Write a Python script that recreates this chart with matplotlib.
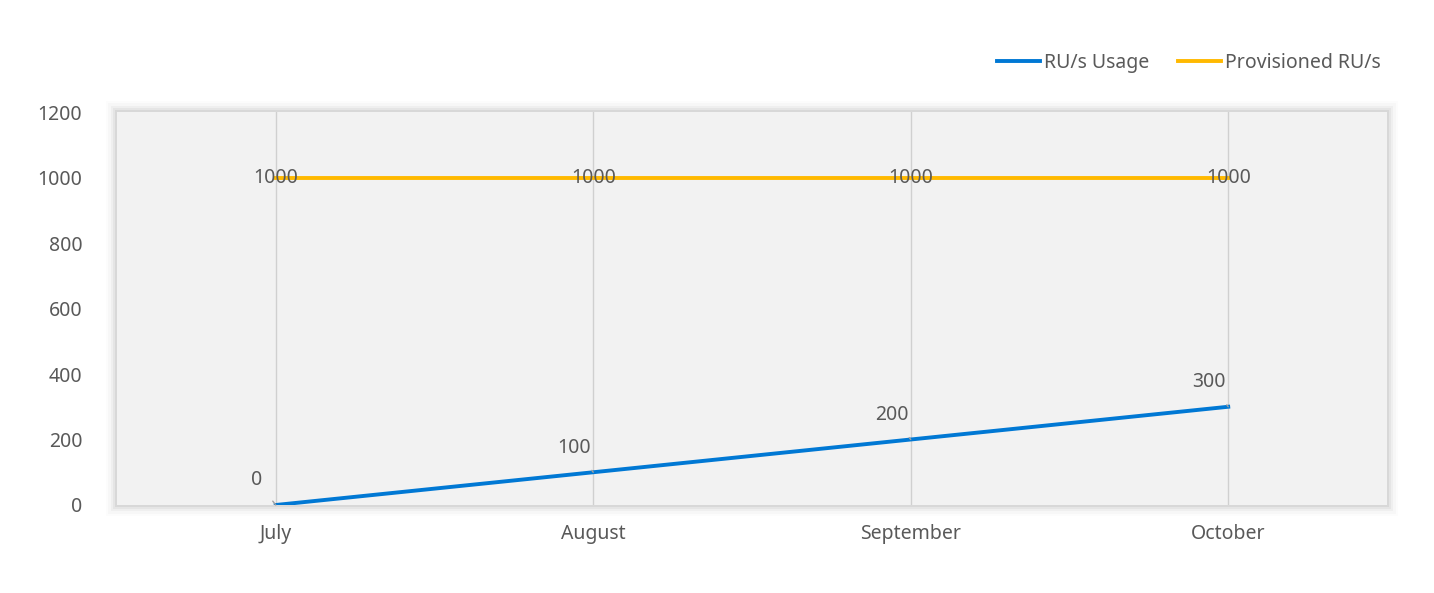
import matplotlib.pyplot as plt
from matplotlib.patches import Rectangle

plt.rcParams['font.family'] = ['Noto Sans', 'DejaVu Sans']

months = ['July', 'August', 'September', 'October']
usage = [0, 100, 200, 300]
provisioned = [1000, 1000, 1000, 1000]
y_ticks = [0, 200, 400, 600, 800, 1000, 1200]

text_col = '#595959'
fig = plt.figure(figsize=(14.34, 5.93), dpi=100)
ax = fig.add_axes([0.0816, 0.1484, 0.8856, 0.6627])
ax.set_facecolor('#f2f2f2')

# soft shadow around the plot area
for i, a in enumerate([0.05, 0.04, 0.03, 0.02, 0.01]):
    d = (i + 1) * 0.0015
    fig.patches.append(Rectangle((0.0816 - d, 0.1484 - d * 2.4), 0.8856 + 2 * d, 0.6627 + 2 * d * 2.4,
                                 transform=fig.transFigure, facecolor='black', alpha=a,
                                 edgecolor='none', zorder=-10))

x = list(range(len(months)))
for xi in x:
    ax.axvline(xi, color='#d0d0d0', lw=1, zorder=1)
ax.plot(x, usage, color='#0078d4', lw=2.8, label='RU/s Usage', zorder=3)
ax.plot(x, provisioned, color='#ffb900', lw=2.8, label='Provisioned RU/s', zorder=3)

for xi, v in zip(x, provisioned):
    ax.text(xi, v, str(v), ha='center', va='center', fontsize=14, color=text_col, zorder=4)
for xi, v in zip(x, usage):
    ax.annotate(str(v), xy=(xi, v), xytext=(xi - 0.06, v + 75), ha='center', va='center',
                fontsize=14, color=text_col, zorder=4,
                arrowprops=dict(arrowstyle='-', color='#a0a0a0', lw=1, shrinkA=9, shrinkB=0))

ax.set_xlim(-0.5, 3.5)
ax.set_ylim(0, 1200)
ax.set_xticks(x)
ax.set_xticklabels(months)
ax.set_yticks(y_ticks)
ax.tick_params(length=0, labelsize=14, colors=text_col)
ax.tick_params(axis='x', pad=14)
ax.tick_params(axis='y', pad=25)
for s in ax.spines.values():
    s.set_visible(False)

fig.legend(loc='upper right', bbox_to_anchor=(0.975, 0.94), ncol=2, frameon=False,
           fontsize=14, labelcolor=text_col, handlelength=2.2, handletextpad=0.2,
           columnspacing=1.5)

fig.savefig('out.png', dpi=100)
